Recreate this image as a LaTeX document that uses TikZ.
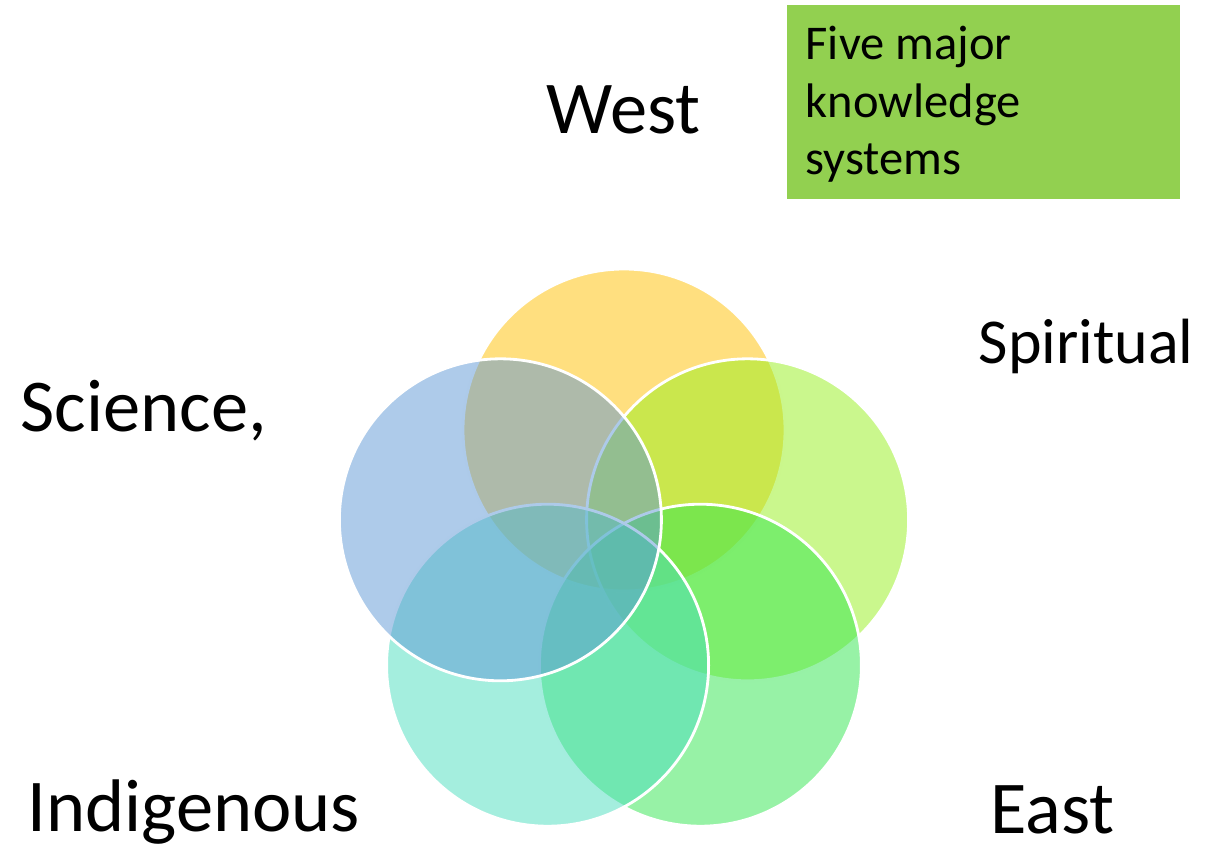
\documentclass[tikz,border=0pt]{standalone}
\usepackage{fontspec}
\setmainfont{Carlito}
\definecolor{cyellow}{RGB}{255,192,0}
\definecolor{clime}{RGB}{150,239,27}
\definecolor{cgreen}{RGB}{48,229,78}
\definecolor{cteal}{RGB}{74,221,190}
\definecolor{cblue}{RGB}{93,151,213}
\definecolor{boxgreen}{RGB}{146,208,80}
\begin{document}
\begin{tikzpicture}[
  venn/.style={circle, minimum size=3.22cm, inner sep=0pt, draw=white, line width=0.8pt, fill opacity=0.5},
  biglabel/.style={anchor=base west, inner sep=0pt, font=\fontsize{21.2}{25}\selectfont},
  boxline/.style={anchor=base west, inner sep=0pt, font=\fontsize{13.8}{16.6}\selectfont}
]
\useasboundingbox (0,0) rectangle (12.2,-8.48);
% circles (drawing order matters)
\node[venn, fill=cyellow] (ctop) at (6.24,-4.30) {};
\node[venn, fill=clime] (cright) at (7.476,-5.198) {};
\node[venn, fill=cgreen] (cbr) at (7.004,-6.652) {};
\node[venn, fill=cteal] (cbl) at (5.476,-6.652) {};
\node[venn, fill=cblue] (cleft) at (5.004,-5.198) {};
% labels
\node[biglabel] (west) at (5.46,-1.33) {West};
\node[biglabel, font=\fontsize{18.2}{22}\selectfont] (spiritual) at (9.78,-3.63) {Spiritual};
\node[biglabel] (science) at (0.20,-4.31) {Science,};
\node[biglabel] (indigenous) at (0.27,-8.31) {Indigenous};
\node[biglabel] (east) at (9.90,-8.33) {East};
% title box
\path[fill=boxgreen] (7.87,-0.05) rectangle (11.80,-1.99);
\node[boxline] (l1) at (8.05,-0.593) {Five major};
\node[boxline] (l2) at (8.05,-1.170) {knowledge};
\node[boxline] (l3) at (8.05,-1.740) {systems};
\end{tikzpicture}
\end{document}
